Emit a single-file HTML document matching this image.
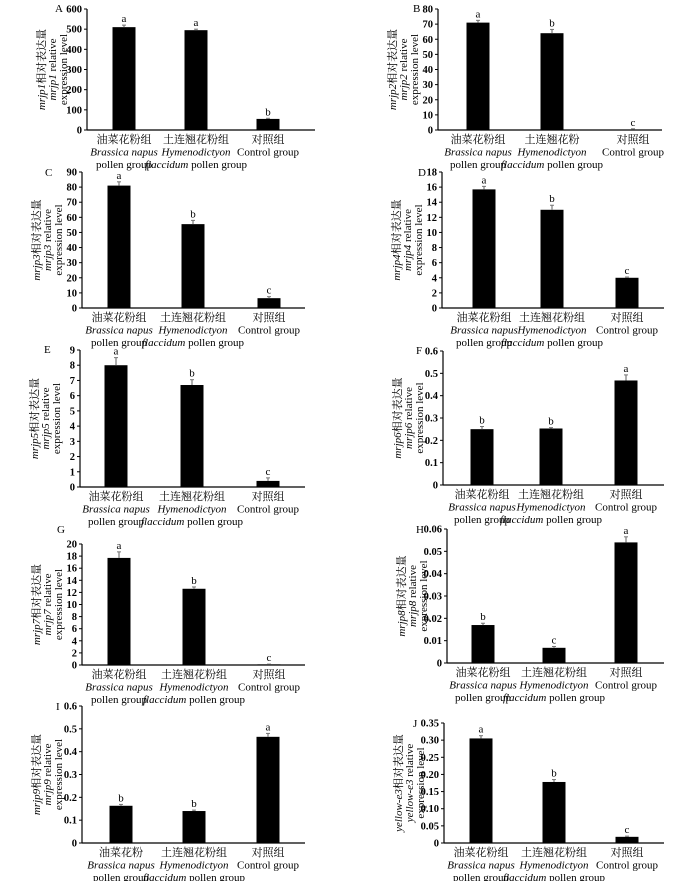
<!DOCTYPE html>
<html><head><meta charset="utf-8"><style>
html,body{margin:0;padding:0;background:#fff;}
svg{display:block;font-family:"Liberation Serif","Noto Serif CJK SC","Noto Sans CJK SC",serif;}
</style></head><body>
<svg id="fig" width="700" height="881" viewBox="0 0 700 881" xmlns="http://www.w3.org/2000/svg"></svg>
<script>
const catsZh = ["油菜花粉组","土连翘花粉组","对照组"];
const valuesA = [510, 495, 55];      const errA = [10, 5, 3];        const lettersA = ["a","a","b"];
const valuesB = [71, 64, 0.3];       const errB = [1.5, 2.5, 0.5];   const lettersB = ["a","b","c"];
const valuesC = [81, 55.5, 6.5];     const errC = [2.5, 2.5, 1];     const lettersC = ["a","b","c"];
const valuesD = [15.7, 13, 4];       const errD = [0.4, 0.6, 0.1];   const lettersD = ["a","b","c"];
const valuesE = [8, 6.7, 0.4];       const errE = [0.5, 0.35, 0.2];  const lettersE = ["a","b","c"];
const valuesF = [0.25, 0.253, 0.468];const errF = [0.012, 0.004, 0.025]; const lettersF = ["b","b","a"];
const valuesG = [17.7, 12.6, 0.1];   const errG = [1, 0.3, 0.05];    const lettersG = ["a","b","c"];
const valuesH = [0.017, 0.0068, 0.054]; const errH = [0.0008, 0.0006, 0.0025]; const lettersH = ["b","c","a"];
const valuesI = [0.163, 0.14, 0.465];const errI = [0.006, 0.004, 0.015]; const lettersI = ["b","b","a"];
const valuesJ = [0.305, 0.178, 0.018]; const errJ = [0.008, 0.007, 0.002]; const lettersJ = ["a","b","c"];
const ticksA = [0,100,200,300,400,500,600];
const ticksB = [0,10,20,30,40,50,60,70,80];
const ticksC = [0,10,20,30,40,50,60,70,80,90];
const ticksD = [0,2,4,6,8,10,12,14,16,18];
const ticksE = [0,1,2,3,4,5,6,7,8,9];
const ticksF = ["0","0.1","0.2","0.3","0.4","0.5","0.6"];
const ticksG = [0,2,4,6,8,10,12,14,16,18,20];
const ticksH = ["0","0.01","0.02","0.03","0.04","0.05","0.06"];
const ticksI = ["0","0.1","0.2","0.3","0.4","0.5","0.6"];
const ticksJ = ["0","0.05","0.10","0.15","0.20","0.25","0.30","0.35"];

const NS = "http://www.w3.org/2000/svg";
const svg = document.getElementById("fig");
function mk(tag, attrs, parent){const e=document.createElementNS(NS,tag);for(const k in attrs)e.setAttribute(k,attrs[k]);(parent||svg).appendChild(e);return e;}

// layout: letter, axisX, axisEnd, yTop, y0, bar centers, gene name
const layouts = [
 {id:"A",v:valuesA,e:errA,l:lettersA,t:ticksA,ax:87,end:315,yt:9,y0:130,cx:[124,196,268],gene:"mrjp1",lx:55,ly:12,z2:"土连翘花粉组",z1:"油菜花粉组"},
 {id:"B",v:valuesB,e:errB,l:lettersB,t:ticksB,ax:438,end:662,yt:9,y0:130,cx:[478,552,633],gene:"mrjp2",lx:413,ly:12,z2:"土连翘花粉",z1:"油菜花粉组"},
 {id:"C",v:valuesC,e:errC,l:lettersC,t:ticksC,ax:82,end:305,yt:172,y0:308,cx:[119,193,269],gene:"mrjp3",lx:45,ly:176,z2:"土连翘花粉组",z1:"油菜花粉组"},
 {id:"D",v:valuesD,e:errD,l:lettersD,t:ticksD,ax:442,end:664,yt:172,y0:308,cx:[484,552,627],gene:"mrjp4",lx:418,ly:176,z2:"土连翘花粉组",z1:"油菜花粉组"},
 {id:"E",v:valuesE,e:errE,l:lettersE,t:ticksE,ax:80,end:305,yt:350,y0:487,cx:[116,192,268],gene:"mrjp5",lx:44,ly:353,z2:"土连翘花粉组",z1:"油菜花粉组"},
 {id:"F",v:valuesF,e:errF,l:lettersF,t:ticksF,ax:443,end:664,yt:351,y0:485,cx:[482,551,626],gene:"mrjp6",lx:416,ly:354,z2:"土连翘花粉组",z1:"油菜花粉组"},
 {id:"G",v:valuesG,e:errG,l:lettersG,t:ticksG,ax:82,end:305,yt:544,y0:665,cx:[119,194,269],gene:"mrjp7",lx:57,ly:533,z2:"土连翘花粉组",z1:"油菜花粉组"},
 {id:"H",v:valuesH,e:errH,l:lettersH,t:ticksH,ax:447,end:664,yt:529,y0:663,cx:[483,554,626],gene:"mrjp8",lx:416,ly:533,z2:"土连翘花粉组",z1:"油菜花粉组"},
 {id:"I",v:valuesI,e:errI,l:lettersI,t:ticksI,ax:82,end:305,yt:706,y0:843,cx:[121,194,268],gene:"mrjp9",lx:56,ly:710,z2:"土连翘花粉组",z1:"油菜花粉"},
 {id:"J",v:valuesJ,e:errJ,l:lettersJ,t:ticksJ,ax:444,end:664,yt:723,y0:843,cx:[481,554,627],gene:"yellow-e3",lx:413,ly:727,z2:"土连翘花粉组",z1:"油菜花粉组"}
];

layouts.forEach(p=>{
  const g = mk("g",{});
  
  
  const tmax = parseFloat(p.t[p.t.length-1]);
  const y = v => p.y0 - (v/tmax)*(p.y0-p.yt);
  // panel letter
  const lt = mk("text",{x:p.lx,y:p.ly,"font-size":11},g);
  
  
  lt.textContent = p.id;
  // axes
  const ya = mk("line",{x1:p.ax,y1:p.yt,x2:p.ax,y2:p.y0,stroke:"#000","stroke-width":1.2},g);
  
  
  const xa = mk("line",{x1:p.ax,y1:p.y0,x2:p.end,y2:p.y0,stroke:"#000","stroke-width":1.2},g);
  
  
  p.t.forEach(tv=>{
    const ty = y(parseFloat(tv));
    const tk = mk("line",{x1:p.ax-3,y1:ty,x2:p.ax,y2:ty,stroke:"#000","stroke-width":1},g);
    
    
    const tl = mk("text",{x:p.ax-5,y:ty+3.5,"font-size":10.5,"font-weight":"bold","text-anchor":"end"},g);
    
    
    tl.textContent = String(tv);
  });
  // y title
  const cyt = (p.yt+p.y0)/2;
  const lines = [[p.gene,"相对表达量"],[p.gene," relative"],[null,"expression level"]];
  const offs = [-46,-35,-24];
  lines.forEach((ln,i)=>{
    const x = p.ax+offs[i];
    const tt = mk("text",{x:x,y:cyt,"font-size":11,"text-anchor":"middle",transform:`rotate(-90 ${x} ${cyt})`,dy:"0.35em"},g);
    
    
    if(ln[0]){const s=mk("tspan",{"font-style":"italic"},tt);s.textContent=ln[0];}
    const s2=mk("tspan",{},tt);s2.textContent=ln[1];
  });
  // bars
  p.v.forEach((val,i)=>{
    const cx=p.cx[i], w=23, top=y(val);
    const r = mk("rect",{x:cx-w/2,y:top,width:w,height:Math.max(p.y0-top,0.5),fill:"#000"},g);
    
    
    const et = y(val+p.e[i]);
    const eb = mk("line",{x1:cx,y1:top,x2:cx,y2:et,stroke:"#777","stroke-width":1.2},g);
    
    
    const ec = mk("line",{x1:cx-2,y1:et,x2:cx+2,y2:et,stroke:"#777","stroke-width":1},g);
    
    
    const sl = mk("text",{x:cx,y:et-3,"font-size":11,"text-anchor":"middle"},g);
    
    
    sl.textContent = p.l[i];
    // x labels
    const zh = i==0?p.z1:(i==1?p.z2:catsZh[2]);
    const rows = i==0 ? [[["",zh]],[["i","Brassica napus"]],[["","pollen group"]]]
               : i==1 ? [[["",zh]],[["i","Hymenodictyon"]],[["i","flaccidum"],[""," pollen group"]]]
               : [[["",zh]],[["","Control group"]]];
    rows.forEach((row,k)=>{
      const tx = mk("text",{x:cx,y:p.y0+13+k*12.5,"font-size":11,"text-anchor":"middle"},g);
      
      
      row.forEach(seg=>{const s=mk("tspan",seg[0]=="i"?{"font-style":"italic"}:{},tx);s.textContent=seg[1];});
    });
  });
});
</script>
</body></html>
